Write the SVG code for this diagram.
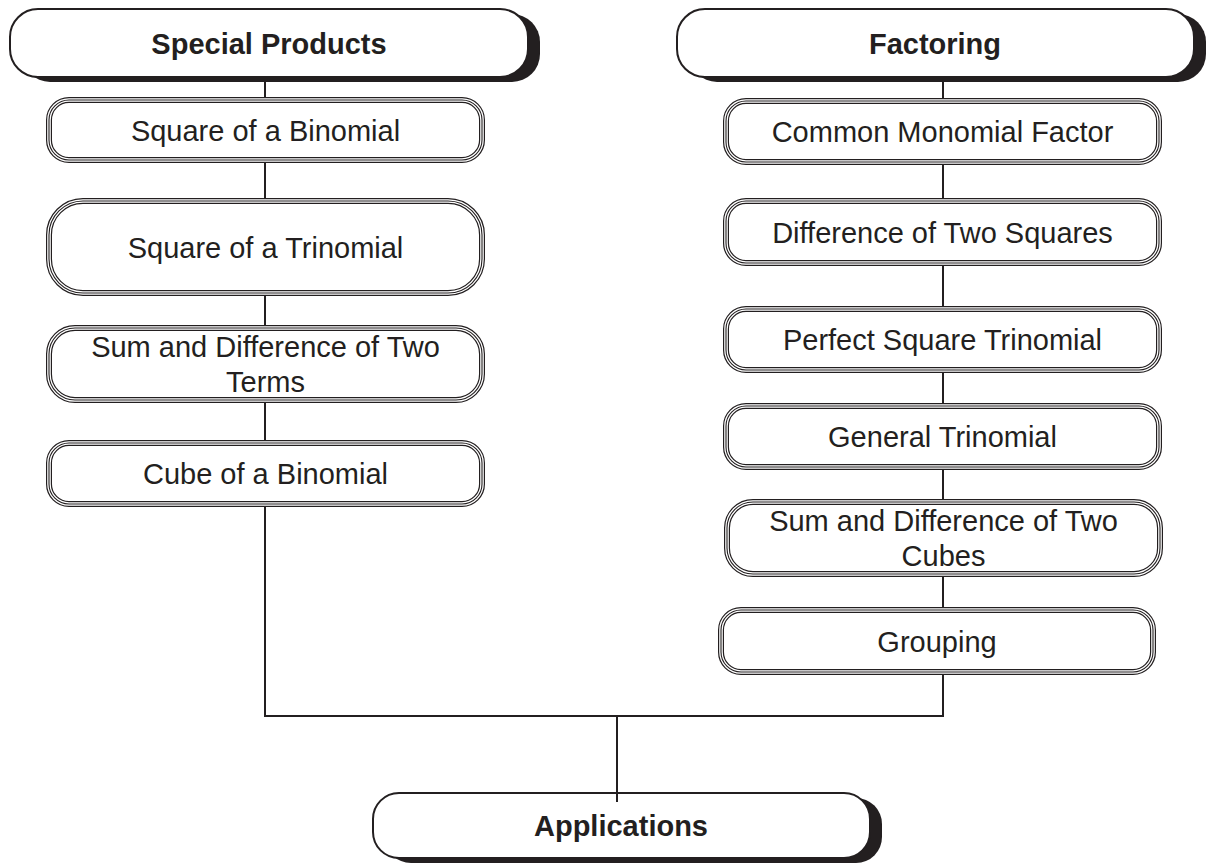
<svg xmlns="http://www.w3.org/2000/svg" width="1208" height="863" viewBox="0 0 1208 863">
<style>
.bg{fill:#fff}
.sh{fill:#231f20}
.hd{fill:#fff;stroke:#231f20;stroke-width:2}
.b1{fill:#fff;stroke:#231f20;stroke-width:6}
.b2{fill:none;stroke:#fff;stroke-width:3.6}
.b3{fill:none;stroke:#231f20;stroke-width:1.1}
text{font-family:'Liberation Sans',Helvetica,sans-serif;font-size:29px;fill:#231f20;text-anchor:middle}
.tb{font-weight:bold}
.c{fill:none;stroke:#231f20;stroke-width:2}
</style>
<rect class="bg" x="0" y="0" width="1208" height="863"/>

<g id="special-products">
<rect class="sh" x="22" y="14" width="518" height="68" rx="28"/>
<rect class="hd" x="10" y="9" width="518" height="68" rx="28"/>
<text class="tb" x="269" y="54" font-family="Liberation Sans, sans-serif">Special Products</text>
</g>

<g id="factoring">
<rect class="sh" x="689" y="14" width="517" height="68" rx="28"/>
<rect class="hd" x="677" y="9" width="517" height="68" rx="28"/>
<text class="tb" x="935" y="54" font-family="Liberation Sans, sans-serif">Factoring</text>
</g>

<g id="square-binomial">
<rect class="b1" x="49" y="100" width="433" height="60" rx="20"/>
<rect class="b2" x="49" y="100" width="433" height="60" rx="20"/>
<rect class="b3" x="49" y="100" width="433" height="60" rx="20"/>
<text x="265.5" y="140.5" font-family="Liberation Sans, sans-serif">Square of a Binomial</text>
</g>

<g id="square-trinomial">
<rect class="b1" x="49" y="201" width="433" height="92" rx="34"/>
<rect class="b2" x="49" y="201" width="433" height="92" rx="34"/>
<rect class="b3" x="49" y="201" width="433" height="92" rx="34"/>
<text x="265.5" y="257.5" font-family="Liberation Sans, sans-serif">Square of a Trinomial</text>
</g>

<g id="sum-diff-terms">
<rect class="b1" x="49" y="328" width="433" height="72" rx="26"/>
<rect class="b2" x="49" y="328" width="433" height="72" rx="26"/>
<rect class="b3" x="49" y="328" width="433" height="72" rx="26"/>
<text x="265.5" y="357" font-family="Liberation Sans, sans-serif">Sum and Difference of Two</text>
<text x="265.5" y="392" font-family="Liberation Sans, sans-serif">Terms</text>
</g>

<g id="cube-binomial">
<rect class="b1" x="49" y="443" width="433" height="61" rx="20"/>
<rect class="b2" x="49" y="443" width="433" height="61" rx="20"/>
<rect class="b3" x="49" y="443" width="433" height="61" rx="20"/>
<text x="265.5" y="484" font-family="Liberation Sans, sans-serif">Cube of a Binomial</text>
</g>

<g id="common-monomial">
<rect class="b1" x="726" y="101" width="433" height="61" rx="20"/>
<rect class="b2" x="726" y="101" width="433" height="61" rx="20"/>
<rect class="b3" x="726" y="101" width="433" height="61" rx="20"/>
<text x="942.5" y="142" font-family="Liberation Sans, sans-serif">Common Monomial Factor</text>
</g>

<g id="diff-two-squares">
<rect class="b1" x="726" y="201" width="433" height="62" rx="20"/>
<rect class="b2" x="726" y="201" width="433" height="62" rx="20"/>
<rect class="b3" x="726" y="201" width="433" height="62" rx="20"/>
<text x="942.5" y="242.5" font-family="Liberation Sans, sans-serif">Difference of Two Squares</text>
</g>

<g id="perfect-square">
<rect class="b1" x="726" y="309" width="433" height="61" rx="20"/>
<rect class="b2" x="726" y="309" width="433" height="61" rx="20"/>
<rect class="b3" x="726" y="309" width="433" height="61" rx="20"/>
<text x="942.5" y="350" font-family="Liberation Sans, sans-serif">Perfect Square Trinomial</text>
</g>

<g id="general-trinomial">
<rect class="b1" x="726" y="406" width="433" height="61" rx="20"/>
<rect class="b2" x="726" y="406" width="433" height="61" rx="20"/>
<rect class="b3" x="726" y="406" width="433" height="61" rx="20"/>
<text x="942.5" y="447" font-family="Liberation Sans, sans-serif">General Trinomial</text>
</g>

<g id="sum-diff-cubes">
<rect class="b1" x="727" y="502" width="433" height="72" rx="26"/>
<rect class="b2" x="727" y="502" width="433" height="72" rx="26"/>
<rect class="b3" x="727" y="502" width="433" height="72" rx="26"/>
<text x="943.5" y="531" font-family="Liberation Sans, sans-serif">Sum and Difference of Two</text>
<text x="943.5" y="566" font-family="Liberation Sans, sans-serif">Cubes</text>
</g>

<g id="grouping">
<rect class="b1" x="721" y="610" width="432" height="62" rx="20"/>
<rect class="b2" x="721" y="610" width="432" height="62" rx="20"/>
<rect class="b3" x="721" y="610" width="432" height="62" rx="20"/>
<text x="937" y="651.5" font-family="Liberation Sans, sans-serif">Grouping</text>
</g>

<g id="applications">
<rect class="sh" x="385" y="798" width="497" height="65" rx="26"/>
<rect class="hd" x="373" y="793" width="497" height="65" rx="26"/>
<text class="tb" x="621" y="836" font-family="Liberation Sans, sans-serif">Applications</text>
</g>

<g id="connectors">
<path class="c" d="M265 78 V97 M265 163 V198 M265 296 V325 M265 403 V440"/>
<path class="c" d="M943 78 V98 M943 165 V198 M943 266 V306 M943 373 V403 M943 470 V499 M943 577 V607"/>
<path class="c" d="M265 507 V716 H943 V675"/>
<path class="c" d="M617 716 V802"/>
</g>
</svg>
